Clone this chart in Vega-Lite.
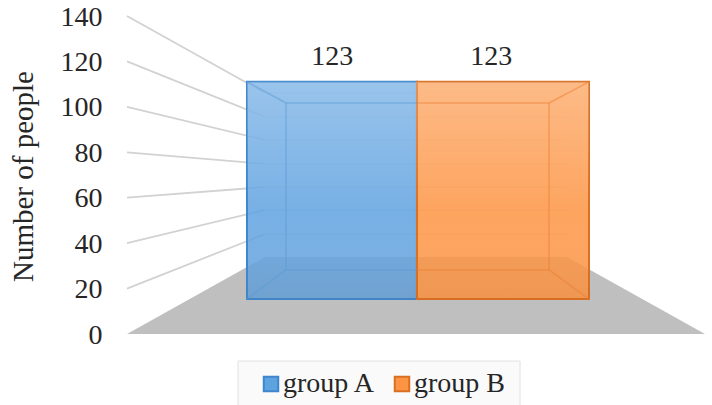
{
  "$schema": "https://vega.github.io/schema/vega-lite/v6.json",
  "autosize": {"type": "none"},
  "padding": {"left": 127, "top": 16, "right": 7, "bottom": 71},
  "width": 578,
  "height": 318,
  "background": "white",
  "config": {"view": {"stroke": null}, "font": "Liberation Serif"},
  "datasets": {
    "grid": [
      {"x": 0, "y": 140, "x2": 23.88, "y2": 106.1},
      {"x": 0, "y": 120, "x2": 23.88, "y2": 95.6},
      {"x": 0, "y": 100, "x2": 23.88, "y2": 85.4},
      {"x": 0, "y": 80, "x2": 23.88, "y2": 74.9},
      {"x": 0, "y": 60, "x2": 23.88, "y2": 64.7},
      {"x": 0, "y": 40, "x2": 23.88, "y2": 54.6},
      {"x": 0, "y": 20, "x2": 23.88, "y2": 44}
    ],
    "wall": [
      {"x": 23.88, "y": 106.1, "x2": 76.12, "y2": 106.1},
      {"x": 23.88, "y": 95.6, "x2": 76.12, "y2": 95.6},
      {"x": 23.88, "y": 85.4, "x2": 76.12, "y2": 85.4},
      {"x": 23.88, "y": 74.9, "x2": 76.12, "y2": 74.9},
      {"x": 23.88, "y": 64.7, "x2": 76.12, "y2": 64.7},
      {"x": 23.88, "y": 54.6, "x2": 76.12, "y2": 54.6},
      {"x": 23.88, "y": 44, "x2": 76.12, "y2": 44}
    ],
    "floor": [
      {"x": 0, "y": 0},
      {"x": 23.88, "y": 33.9},
      {"x": 76.12, "y": 33.9},
      {"x": 100, "y": 0}
    ],
    "legendBox": [
      {"x": 19.2, "x2": 68, "y": -11.9, "y2": -32}
    ],
    "bars": [
      {"group": "group A", "x": 20.76, "x2": 50.17, "y": 111, "y2": 15.4},
      {"group": "group B", "x": 50.17, "x2": 79.93, "y": 111, "y2": 15.4}
    ],
    "edges": [
      {"group": "group A", "x": 27.51, "y": 101.7, "x2": 50.17, "y2": 101.7},
      {"group": "group A", "x": 27.51, "y": 28.2, "x2": 50.17, "y2": 28.2},
      {"group": "group A", "x": 27.51, "y": 101.7, "x2": 27.51, "y2": 28.2},
      {"group": "group A", "x": 20.76, "y": 111, "x2": 27.51, "y2": 101.7},
      {"group": "group A", "x": 20.76, "y": 15.4, "x2": 27.51, "y2": 28.2},
      {"group": "group B", "x": 50.17, "y": 101.7, "x2": 73.01, "y2": 101.7},
      {"group": "group B", "x": 50.17, "y": 28.2, "x2": 73.01, "y2": 28.2},
      {"group": "group B", "x": 73.01, "y": 101.7, "x2": 73.01, "y2": 28.2},
      {"group": "group B", "x": 79.93, "y": 111, "x2": 73.01, "y2": 101.7},
      {"group": "group B", "x": 79.93, "y": 15.4, "x2": 73.01, "y2": 28.2}
    ],
    "labels": [
      {"group": "group A", "x": 35.5, "y": 122, "value": 123},
      {"group": "group B", "x": 63, "y": 122, "value": 123}
    ]
  },
  "encoding": {
    "x": {"field": "x", "type": "quantitative", "axis": null, "scale": {"domain": [0, 100], "nice": false, "zero": false}},
    "y": {
      "field": "y",
      "type": "quantitative",
      "scale": {"domain": [0, 140], "nice": false},
      "axis": {
        "title": "Number of people",
        "values": [0, 20, 40, 60, 80, 100, 120, 140],
        "domain": false,
        "ticks": false,
        "grid": false,
        "labelFont": "Liberation Serif",
        "labelFontSize": 28,
        "labelColor": "#262626",
        "labelPadding": 25,
        "labelOffset": 1,
        "titleFont": "Liberation Serif",
        "titleFontSize": 29,
        "titleFontWeight": "normal",
        "titleColor": "#262626",
        "titleX": -89,
        "titleY": 160
      }
    }
  },
  "layer": [
    {
      "data": {"name": "grid"},
      "mark": {"type": "rule", "color": "#d2d2d2", "strokeWidth": 1.8},
      "encoding": {"x2": {"field": "x2"}, "y2": {"field": "y2"}}
    },
    {
      "data": {"name": "wall"},
      "mark": {"type": "rule", "color": "#e6e6e6", "strokeWidth": 1.2},
      "encoding": {"x2": {"field": "x2"}, "y2": {"field": "y2"}}
    },
    {
      "data": {"name": "floor"},
      "mark": {"type": "area", "color": "#bfbfbf", "interpolate": "linear"},
      "encoding": {}
    },
    {
      "data": {"name": "legendBox"},
      "mark": {"type": "rect", "fill": "#fafafa", "stroke": "#e2e2e2", "strokeWidth": 1},
      "encoding": {"x2": {"field": "x2"}, "y2": {"field": "y2"}}
    },
    {
      "data": {"name": "bars"},
      "mark": {"type": "rect", "fillOpacity": 0.85, "strokeWidth": 2},
      "encoding": {
        "x2": {"field": "x2"},
        "y2": {"field": "y2"},
        "fill": {
          "field": "group",
          "type": "nominal",
          "scale": {"domain": ["group A", "group B"], "range": ["#5fa2e0", "#fd9443"]},
          "legend": {
            "orient": "none",
            "legendX": 130,
            "legendY": 354,
            "direction": "horizontal",
            "columns": 2,
            "title": null,
            "padding": 0,
            "symbolType": "square",
            "symbolSize": 210,
            "symbolStrokeWidth": 2,
            "symbolOpacity": 1,
            "labelFont": "Liberation Serif",
            "labelFontSize": 28,
            "labelColor": "#262626",
            "labelOffset": -2,
            "columnPadding": 12
          }
        },
        "stroke": {
          "field": "group",
          "type": "nominal",
          "scale": {"domain": ["group A", "group B"], "range": ["#3f86cc", "#d96f22"]}
        }
      }
    },
    {
      "data": {"name": "bars"},
      "mark": {
        "type": "rect",
        "fill": {
          "gradient": "linear",
          "x1": 0, "y1": 0, "x2": 0, "y2": 1,
          "stops": [
            {"offset": 0, "color": "rgba(255,255,255,0.25)"},
            {"offset": 0.6, "color": "rgba(255,255,255,0)"},
            {"offset": 1, "color": "rgba(150,80,20,0.06)"}
          ]
        }
      },
      "encoding": {"x2": {"field": "x2"}, "y2": {"field": "y2"}}
    },
    {
      "data": {"name": "edges"},
      "mark": {"type": "rule", "strokeWidth": 1.5, "opacity": 0.5},
      "encoding": {
        "x2": {"field": "x2"},
        "y2": {"field": "y2"},
        "color": {
          "field": "group",
          "type": "nominal",
          "legend": null,
          "scale": {"domain": ["group A", "group B"], "range": ["#5b9bd5", "#ed7d31"]}
        }
      }
    },
    {
      "data": {"name": "labels"},
      "mark": {"type": "text", "font": "Liberation Serif", "fontSize": 28, "color": "#262626"},
      "encoding": {"text": {"field": "value", "type": "quantitative"}}
    }
  ]
}
